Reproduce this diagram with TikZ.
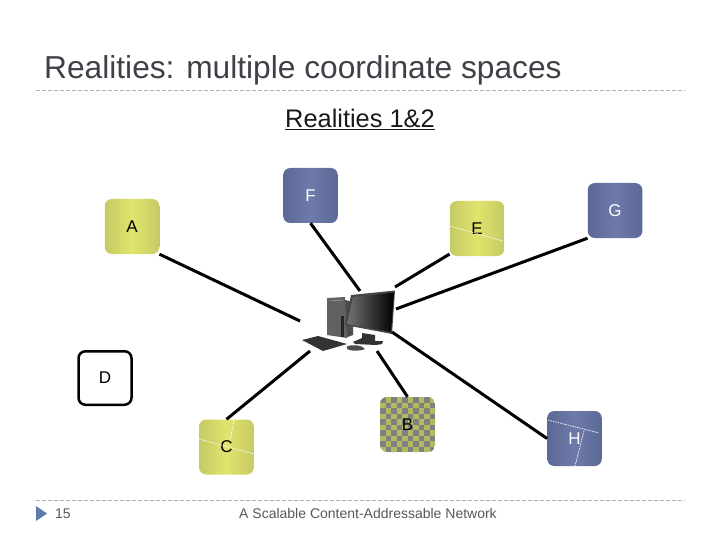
\documentclass[tikz,border=0pt]{standalone}
\usepackage{fontspec}
\setmainfont{Liberation Sans}
\usepackage{xcolor}
\definecolor{titlegray}{RGB}{64,64,72}
\definecolor{footgray}{RGB}{88,88,92}
\definecolor{rulegray}{RGB}{178,178,182}
\definecolor{tribluegray}{RGB}{92,122,170}
\definecolor{yellowedge}{RGB}{198,202,100}
\definecolor{yellowmid}{RGB}{224,228,108}
\definecolor{blueedge}{RGB}{92,104,148}
\definecolor{bluemid}{RGB}{110,122,170}
\definecolor{checkyellow}{RGB}{178,186,96}
\definecolor{checkgray}{RGB}{128,128,128}
\tikzset{
        peer/.style={
          minimum width=54.5pt, minimum height=55pt,
          rounded corners=7pt, inner sep=0pt, font=\fontsize{17}{19}\selectfont
          },
        yellowpeer/.style={peer, left color=yellowedge, right color=yellowedge, middle color=yellowmid},
        bluepeer/.style={peer, text=white, left color=blueedge, right color=blueedge, middle color=bluemid},
        link/.style={line width=3pt, black},
        zone/.style={white, line width=0.7pt, dash pattern=on 1.5pt off 1pt},
        sepline/.style={rulegray, line width=0.8pt, dash pattern=on 4pt off 2pt},
}
\begin{document}
\begin{tikzpicture}[x=1pt, y=-1pt]
      \useasboundingbox (0,0) rectangle (720,540);

      % TITLE AND FOOTER
      \node[anchor=base west, inner sep=0pt, text=titlegray, font=\fontsize{31.7}{36}\selectfont] (title) at (44,79) {Realities: multiple coordinate spaces};
      \draw[sepline] (36,90.5) -- (685,90.5);
      \draw[sepline] (36,500.5) -- (685,500.5);
      \node[font=\fontsize{25.4}{28}\selectfont, text=black!90] (sub) at (360,119) {\underline{Realities 1\&2}};
      \fill[tribluegray] (36,506) -- (47,513.5) -- (36,521) -- cycle;
      \node[anchor=base, inner sep=0pt, font=\fontsize{14}{16}\selectfont, text=footgray] (pagenum) at (63,518) {15};
      \node[anchor=base, inner sep=0pt, font=\fontsize{14}{16}\selectfont, text=footgray] (foot) at (368,518) {A Scalable Content-Addressable Network};

      % PEERS
      \node[yellowpeer] (A) at (132,226.5) {A};
      \node[bluepeer]   (F) at (310.5,195.5) {F};
      \node[yellowpeer] (E) at (477,228.5) {E};
      \node[bluepeer]   (G) at (615,210.5) {G};
      \node[yellowpeer] (C) at (226.5,447) {C};
      \node[bluepeer]   (H) at (574.5,438.5) {H};
      \node[peer, draw=black, line width=2.5pt, minimum width=53pt, minimum height=53.5pt] (D) at (105,378) {D};

      % checks of B
      \begin{scope}
        \clip[rounded corners=7pt] (380,397) rectangle (435,452);
        \fill[checkyellow] (380,397) rectangle (435,452);
        \foreach \i in {0,...,10}
          \foreach \j in {0,...,10}{
            \pgfmathtruncatemacro{\odd}{mod(\i+\j,2)}
            \ifnum\odd=0
              \fill[checkgray] (380+5.5*\i,397+5.5*\j) rectangle ++(5.5,5.5);
            \fi
          }
      \end{scope}
      \node[peer] (B) at (407.5,424.5) {B};

      % dotted zone borders
      \draw[zone] (450,226) -- (503,241);
      \draw[zone] (199,439) -- (254,454);
      \draw[zone] (234,420) -- (230,440);
      \draw[zone] (548,420) -- (599,433);
      \draw[zone] (584,431) -- (575,466);

      % COMPUTER
      \fill[black!70] (345,300) -- (353,302) -- (353,335) -- (345,338) -- cycle;
      \fill[black!62] (327,298) -- (345,297) -- (347,338) -- (327,335) -- cycle;
      \draw[black!35, line width=0.5pt] (329,301) -- (343,300);
      \fill[black!85] (341,316) -- (344,316) -- (344,337) -- (341,337) -- cycle;
      \fill[black!80] (302,340) -- (318,336) -- (347,344) -- (323,351) -- cycle;
      \fill[black!80] (362,333) -- (375,335) -- (375,341) -- (383,341) -- (382,344) -- (376,345) -- (355,344) -- (353,342) -- (362,338) -- cycle;
      \fill[black!70] (347,346.5) .. controls (352,344) and (362,345) .. (365,349) .. controls (360,351.5) and (350,351) .. (347,349) -- cycle;
      \fill[black!72] (351,295) -- (395,290.5) -- (392,334) -- (345,325) -- cycle;
      \shade[left color=black!55, right color=black] (353,297) -- (394,292.5) -- (391,332) -- (347,324) -- cycle;

      % WIRING
      \coordinate (pcA) at (300,321);
      \coordinate (pcF) at (360,291);
      \coordinate (pcE) at (395,287);
      \coordinate (pcG) at (396,309);
      \coordinate (pcC) at (310,351);
      \coordinate (pcB) at (377,351);
      \coordinate (pcH) at (392,332);
      \draw[link] (A.south east) -- (pcA);
      \draw[link] (F.south) -- (pcF);
      \draw[link] (E.223) -- (pcE);
      \draw[link] (G.south west) -- (pcG);
      \draw[link] (C.north) -- (pcC);
      \draw[link] (B.north) -- (pcB);
      \draw[link] (H.west) -- (pcH);
\end{tikzpicture}
\end{document}
